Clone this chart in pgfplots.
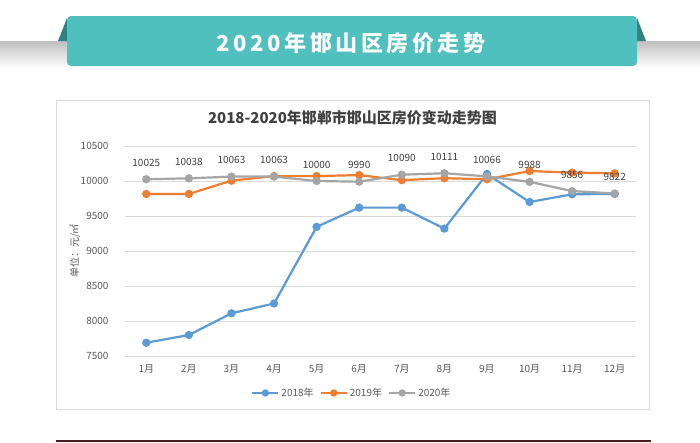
\documentclass[border=0pt]{standalone}
\usepackage{fontspec}
\usepackage{pgfplots}
\pgfplotsset{compat=1.18}
\setmainfont{Noto Sans CJK SC}
\newfontfamily\bannerfont[LetterSpace=16]{Noto Sans CJK SC}
\definecolor{teal1}{HTML}{50C0BE}
\definecolor{teal2}{HTML}{2F827D}
\definecolor{c18}{HTML}{5B9BD5}
\definecolor{c19}{HTML}{ED7D31}
\definecolor{c20}{HTML}{A5A5A5}
\definecolor{gridc}{HTML}{D9D9D9}
\definecolor{tickc}{HTML}{595959}
\definecolor{titlec}{HTML}{404040}
\definecolor{bline}{HTML}{4A1C1C}
\begin{document}
\begin{tikzpicture}
\fill[white] (0pt,0pt) rectangle (700pt,-442pt);
\useasboundingbox (0pt,0pt) rectangle (700pt,-442pt);
% shadow bands
\shade[top color=black!25, bottom color=white] (0pt,-41pt) rectangle (70pt,-68pt);
\shade[top color=black!25, bottom color=white] (634pt,-41pt) rectangle (700pt,-68pt);
% ribbon folds
\fill[teal2] (58pt,-41pt) -- (67pt,-18pt) -- (67pt,-41pt) -- cycle;
\fill[teal2] (637pt,-18pt) -- (646pt,-41pt) -- (637pt,-41pt) -- cycle;
% banner
\fill[teal1, rounded corners=4pt] (67pt,-16pt) rectangle (637pt,-66pt);
\node[text=white, font=\bannerfont\bfseries\fontsize{22}{24}\selectfont, inner sep=0pt] at (351pt,-43pt) {2020年邯山区房价走势};
% chart panel
\draw[gridc, line width=1pt] (56pt,-100.5pt) rectangle (649pt,-409pt);
% bottom line
\fill[bline] (56pt,-440pt) rectangle (651pt,-442pt);
% title
\node[text=titlec, font=\bfseries\fontsize{15}{18}\selectfont, inner sep=0pt] at (352.5pt,-118pt) {2018-2020年邯郸市邯山区房价变动走势图};
% y label
\node[rotate=90, text=tickc, font=\fontsize{10}{12}\selectfont, inner sep=0pt] at (75pt,-251pt) {单位：元/㎡};
\begin{axis}[
  at={(125pt,-356pt)}, anchor=south west,
  scale only axis, width=511pt, height=210pt,
  xmin=0.5, xmax=12.5, ymin=7500, ymax=10500,
  xtick={1,...,12},
  xticklabels={1月,2月,3月,4月,5月,6月,7月,8月,9月,10月,11月,12月},
  ytick={7500,8000,8500,9000,9500,10000,10500},
  scaled y ticks=false,
  yticklabels={7500,8000,8500,9000,9500,10000,10500},
  axis line style={draw=none},
  major tick length=0pt,
  ymajorgrids,
  grid style={draw=gridc, line width=0.9pt},
  tick label style={font=\fontsize{10}{12}\selectfont, text=tickc},
  yticklabel style={xshift=-13pt},
  xticklabel style={yshift=-5pt},
  clip=false,
  legend style={at={(0.444,-0.176)}, anchor=center, draw=none, fill=none,
    font=\fontsize{10}{12}\selectfont, text=tickc, legend columns=3,
    /tikz/every even column/.append style={column sep=4pt}},
  legend image code/.code={\draw[mark repeat=2,mark phase=2,mark size=2.5pt,#1] plot coordinates {(0pt,0pt) (13pt,0pt) (26pt,0pt)};},
  every axis plot/.append style={line width=2.2pt, mark=*, mark size=3pt},
]
\addplot[color=c18, mark options={fill=c18}] coordinates {
(1,7690) (2,7800) (3,8110) (4,8250) (5,9345) (6,9620) (7,9620) (8,9320) (9,10100) (10,9700) (11,9810) (12,9815)};
\addlegendentry{2018年}
\addplot[color=c19, mark options={fill=c19}] coordinates {
(1,9815) (2,9815) (3,10005) (4,10070) (5,10070) (6,10085) (7,10012) (8,10040) (9,10025) (10,10142) (11,10120) (12,10110)};
\addlegendentry{2019年}
\addplot[color=c20, mark options={fill=c20}, nodes near coords, point meta=explicit symbolic,
  every node near coord/.append style={anchor=center, yshift=16.5pt, inner sep=0pt, text=titlec, font=\fontsize{10}{12}\selectfont}] coordinates {
(1,10025)[10025] (2,10038)[10038] (3,10063)[10063] (4,10063)[10063] (5,10000)[10000] (6,9990)[9990] (7,10090)[10090] (8,10111)[10111] (9,10066)[10066] (10,9988)[9988] (11,9856)[9856] (12,9822)[9822]};
\addlegendentry{2020年}
\end{axis}
\end{tikzpicture}
\end{document}
